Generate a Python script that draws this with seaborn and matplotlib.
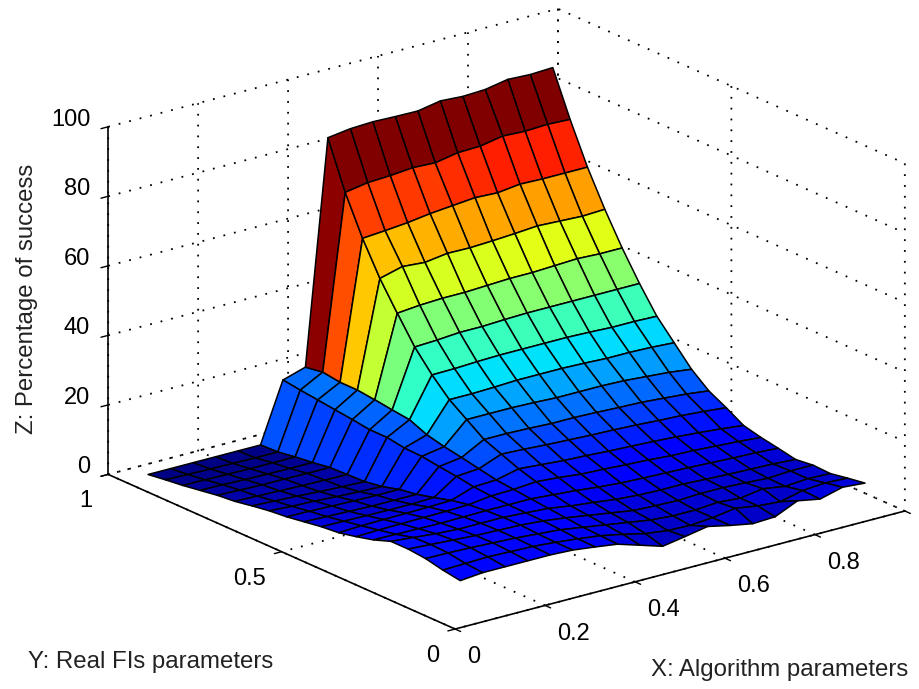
import matplotlib
matplotlib.use('Agg')
import matplotlib.pyplot as plt
import numpy as np
import seaborn as sns

# grid of the surface, rows run from the back wall (y high) to the front
x_vals = [0.05, 0.10, 0.15, 0.20, 0.25, 0.30, 0.35, 0.40, 0.45, 0.50,
          0.55, 0.60, 0.65, 0.70, 0.75, 0.80, 0.85, 0.90, 0.95]
y_vals = [0.95, 0.90, 0.85, 0.80, 0.75, 0.70, 0.65, 0.60, 0.55, 0.50,
          0.45, 0.40, 0.35, 0.30, 0.25, 0.20, 0.15, 0.10, 0.05]
success = [
    [0.5, 0.5, 0.5, 0.5, 0.5, 0.5, 17.5, 19.5, 83.8, 84.7, 85.0, 84.8, 84.7, 85.9, 85.5, 85.8, 87.0, 86.7, 87.0],
    [1.2, 1.0, 0.9, 0.8, 0.7, 0.7, 16.8, 20.3, 70.3, 71.4, 71.7, 72.3, 72.0, 73.2, 73.4, 74.6, 74.3, 74.6, 74.3],
    [1.8, 1.7, 1.6, 1.5, 1.5, 1.5, 16.2, 19.6, 59.3, 59.8, 60.4, 61.3, 61.9, 62.5, 62.2, 63.0, 62.8, 62.8, 62.8],
    [2.6, 2.5, 2.3, 2.2, 2.1, 2.1, 15.6, 19.6, 50.0, 51.7, 51.2, 52.1, 52.0, 52.3, 52.7, 53.2, 52.9, 52.6, 52.9],
    [3.4, 3.2, 3.0, 3.0, 2.9, 2.9, 15.0, 19.0, 42.2, 42.8, 43.1, 43.1, 43.4, 43.7, 43.7, 44.0, 44.3, 44.0, 44.0],
    [3.9, 3.7, 3.5, 3.3, 3.2, 3.1, 14.3, 18.3, 34.7, 35.0, 35.5, 35.5, 35.8, 36.0, 36.0, 36.0, 36.0, 36.0, 36.0],
    [4.8, 4.5, 4.2, 3.8, 3.5, 3.3, 14.3, 17.7, 28.9, 29.0, 29.3, 29.5, 29.5, 29.5, 29.5, 29.3, 29.0, 29.0, 28.8],
    [5.6, 5.2, 5.0, 4.6, 4.3, 4.1, 13.5, 15.6, 24.0, 24.0, 24.2, 24.5, 24.5, 24.5, 24.3, 24.0, 24.0, 23.8, 23.4],
    [6.1, 6.0, 5.8, 5.6, 5.5, 5.5, 13.3, 14.4, 20.5, 20.5, 20.5, 20.3, 20.0, 20.0, 20.0, 19.8, 19.3, 18.8, 18.0],
    [6.9, 6.7, 6.5, 6.3, 6.3, 6.3, 12.6, 13.5, 17.0, 17.0, 16.8, 16.5, 16.5, 16.3, 16.0, 15.8, 15.3, 14.8, 14.0],
    [7.7, 7.6, 7.5, 7.4, 7.4, 7.6, 12.0, 12.5, 15.0, 14.7, 14.3, 14.0, 13.7, 13.5, 13.2, 12.8, 12.5, 12.0, 11.4],
    [8.2, 8.5, 8.6, 8.7, 8.8, 9.0, 11.2, 11.5, 13.0, 12.5, 12.0, 11.7, 11.3, 11.0, 10.7, 10.3, 9.8, 9.2, 8.5],
    [9.3, 9.5, 9.6, 9.7, 9.8, 10.0, 10.8, 11.0, 11.5, 11.0, 10.3, 10.0, 9.6, 9.3, 8.8, 8.6, 8.2, 7.8, 7.3],
    [10.6, 10.5, 10.4, 10.3, 10.4, 10.5, 10.5, 10.5, 10.0, 9.5, 8.8, 8.3, 8.0, 7.8, 7.6, 7.3, 7.0, 6.8, 6.4],
    [12.4, 11.8, 11.2, 10.8, 10.8, 10.8, 10.4, 10.0, 9.0, 8.3, 7.5, 7.0, 6.8, 6.8, 6.5, 6.2, 6.0, 5.8, 5.4],
    [12.4, 12.0, 11.6, 11.2, 11.0, 10.8, 10.3, 9.5, 8.5, 7.5, 6.5, 6.2, 6.0, 6.3, 6.3, 6.0, 5.6, 6.0, 6.0],
    [11.9, 11.8, 11.6, 11.3, 11.0, 10.5, 10.0, 9.0, 8.0, 7.0, 6.0, 5.5, 5.5, 6.0, 5.5, 6.5, 5.5, 6.0, 5.8],
    [10.8, 11.0, 11.2, 11.0, 10.8, 10.3, 9.6, 8.8, 7.5, 6.0, 5.2, 5.0, 5.5, 6.5, 5.5, 5.0, 6.5, 7.0, 6.7],
    [10.0, 10.6, 10.6, 10.6, 10.6, 10.3, 9.5, 8.6, 6.6, 4.6, 5.7, 6.9, 5.5, 4.3, 4.6, 7.5, 6.3, 8.0, 7.5],
]
x_ticks = [0, 0.2, 0.4, 0.6, 0.8, 1]
x_labels = ['0', '0.2', '0.4', '0.6', '0.8', '']
y_ticks = [0, 0.5, 1]
y_labels = ['0', '0.5', '1']
z_ticks = [0, 20, 40, 60, 80, 100]

sns.set_style('ticks')
plt.rcParams['font.family'] = ['Liberation Sans', 'DejaVu Sans']
plt.rcParams['text.color'] = 'k'

W, H = 919, 689
fig = plt.figure(figsize=(W / 100, H / 100), dpi=100)
# square axes bigger than the figure, so the box gets the size of the reference
S = 859
ax = fig.add_axes([65.4 / W, -71 / H, S / W, S / H], projection='3d', proj_type='ortho')
ax.view_init(elev=20, azim=-127.5)
ax.set_box_aspect((567, 570, 370))

X, Y = np.meshgrid(x_vals, y_vals)
Z = np.array(success)
jet = plt.get_cmap('jet')
# face takes the colour of its corner on the high x side, same as the original
cols = jet(Z / 85.0)[:, 1:]
surf = ax.plot_surface(X, Y, Z, facecolors=cols, rstride=1, cstride=1, shade=False, linewidth=1.1)
surf.set_edgecolor('k')

ax.set_xlim(0, 1, view_margin=0)
ax.set_ylim(0, 1, view_margin=0)
ax.set_zlim(0, 100, view_margin=0)
ax.set_xticks(x_ticks)
ax.set_xticklabels(x_labels)
ax.set_yticks(y_ticks)
ax.set_yticklabels(y_labels)
ax.set_zticks(z_ticks)
ax.tick_params(axis='both', labelsize=17, colors='k', pad=3)
plt.setp(ax.get_xticklabels(), ha='left')
plt.setp(ax.get_yticklabels(), ha='right')
# no empty labels left behind
ax.get_xticklabels()[-1].set_visible(False)
plt.setp(ax.get_zticklabels(), visible=False)
# the z tick labels can't be nudged up, so they are placed next to the ticks by hand
for z in z_ticks:
    ax.text(0, 1.052, z - 0.3, str(z), fontsize=17, ha='right', va='center', color='k')

for axis in [ax.xaxis, ax.yaxis, ax.zaxis]:
    axis.set_pane_color((1, 1, 1, 1))
    axis.pane.set_edgecolor('none')
    axis.line.set_color('k')
    axis.line.set_linewidth(1.2)
    axis._axinfo['grid'].update(color='k', linestyle=(0, (1, 5)), linewidth=1.3)
    # inward here means away from the pane
    axis._axinfo['tick'].update(inward_factor=0.2, outward_factor=0.0, linewidth={True: 1.0, False: 1.0})

fig.text(28 / W, 1 - 662 / H, 'Y: Real FIs parameters', fontsize=17.3, va='center', ha='left', color='#222222')
fig.text(908 / W, 1 - 670 / H, 'X: Algorithm parameters', fontsize=17.3, va='center', ha='right', color='#222222')
fig.text(27 / W, 1 - 299 / H, 'Z: Percentage of success', fontsize=17.3, va='center', ha='center', rotation=90, color='#222222')

fig.savefig('out.png', dpi=100)
